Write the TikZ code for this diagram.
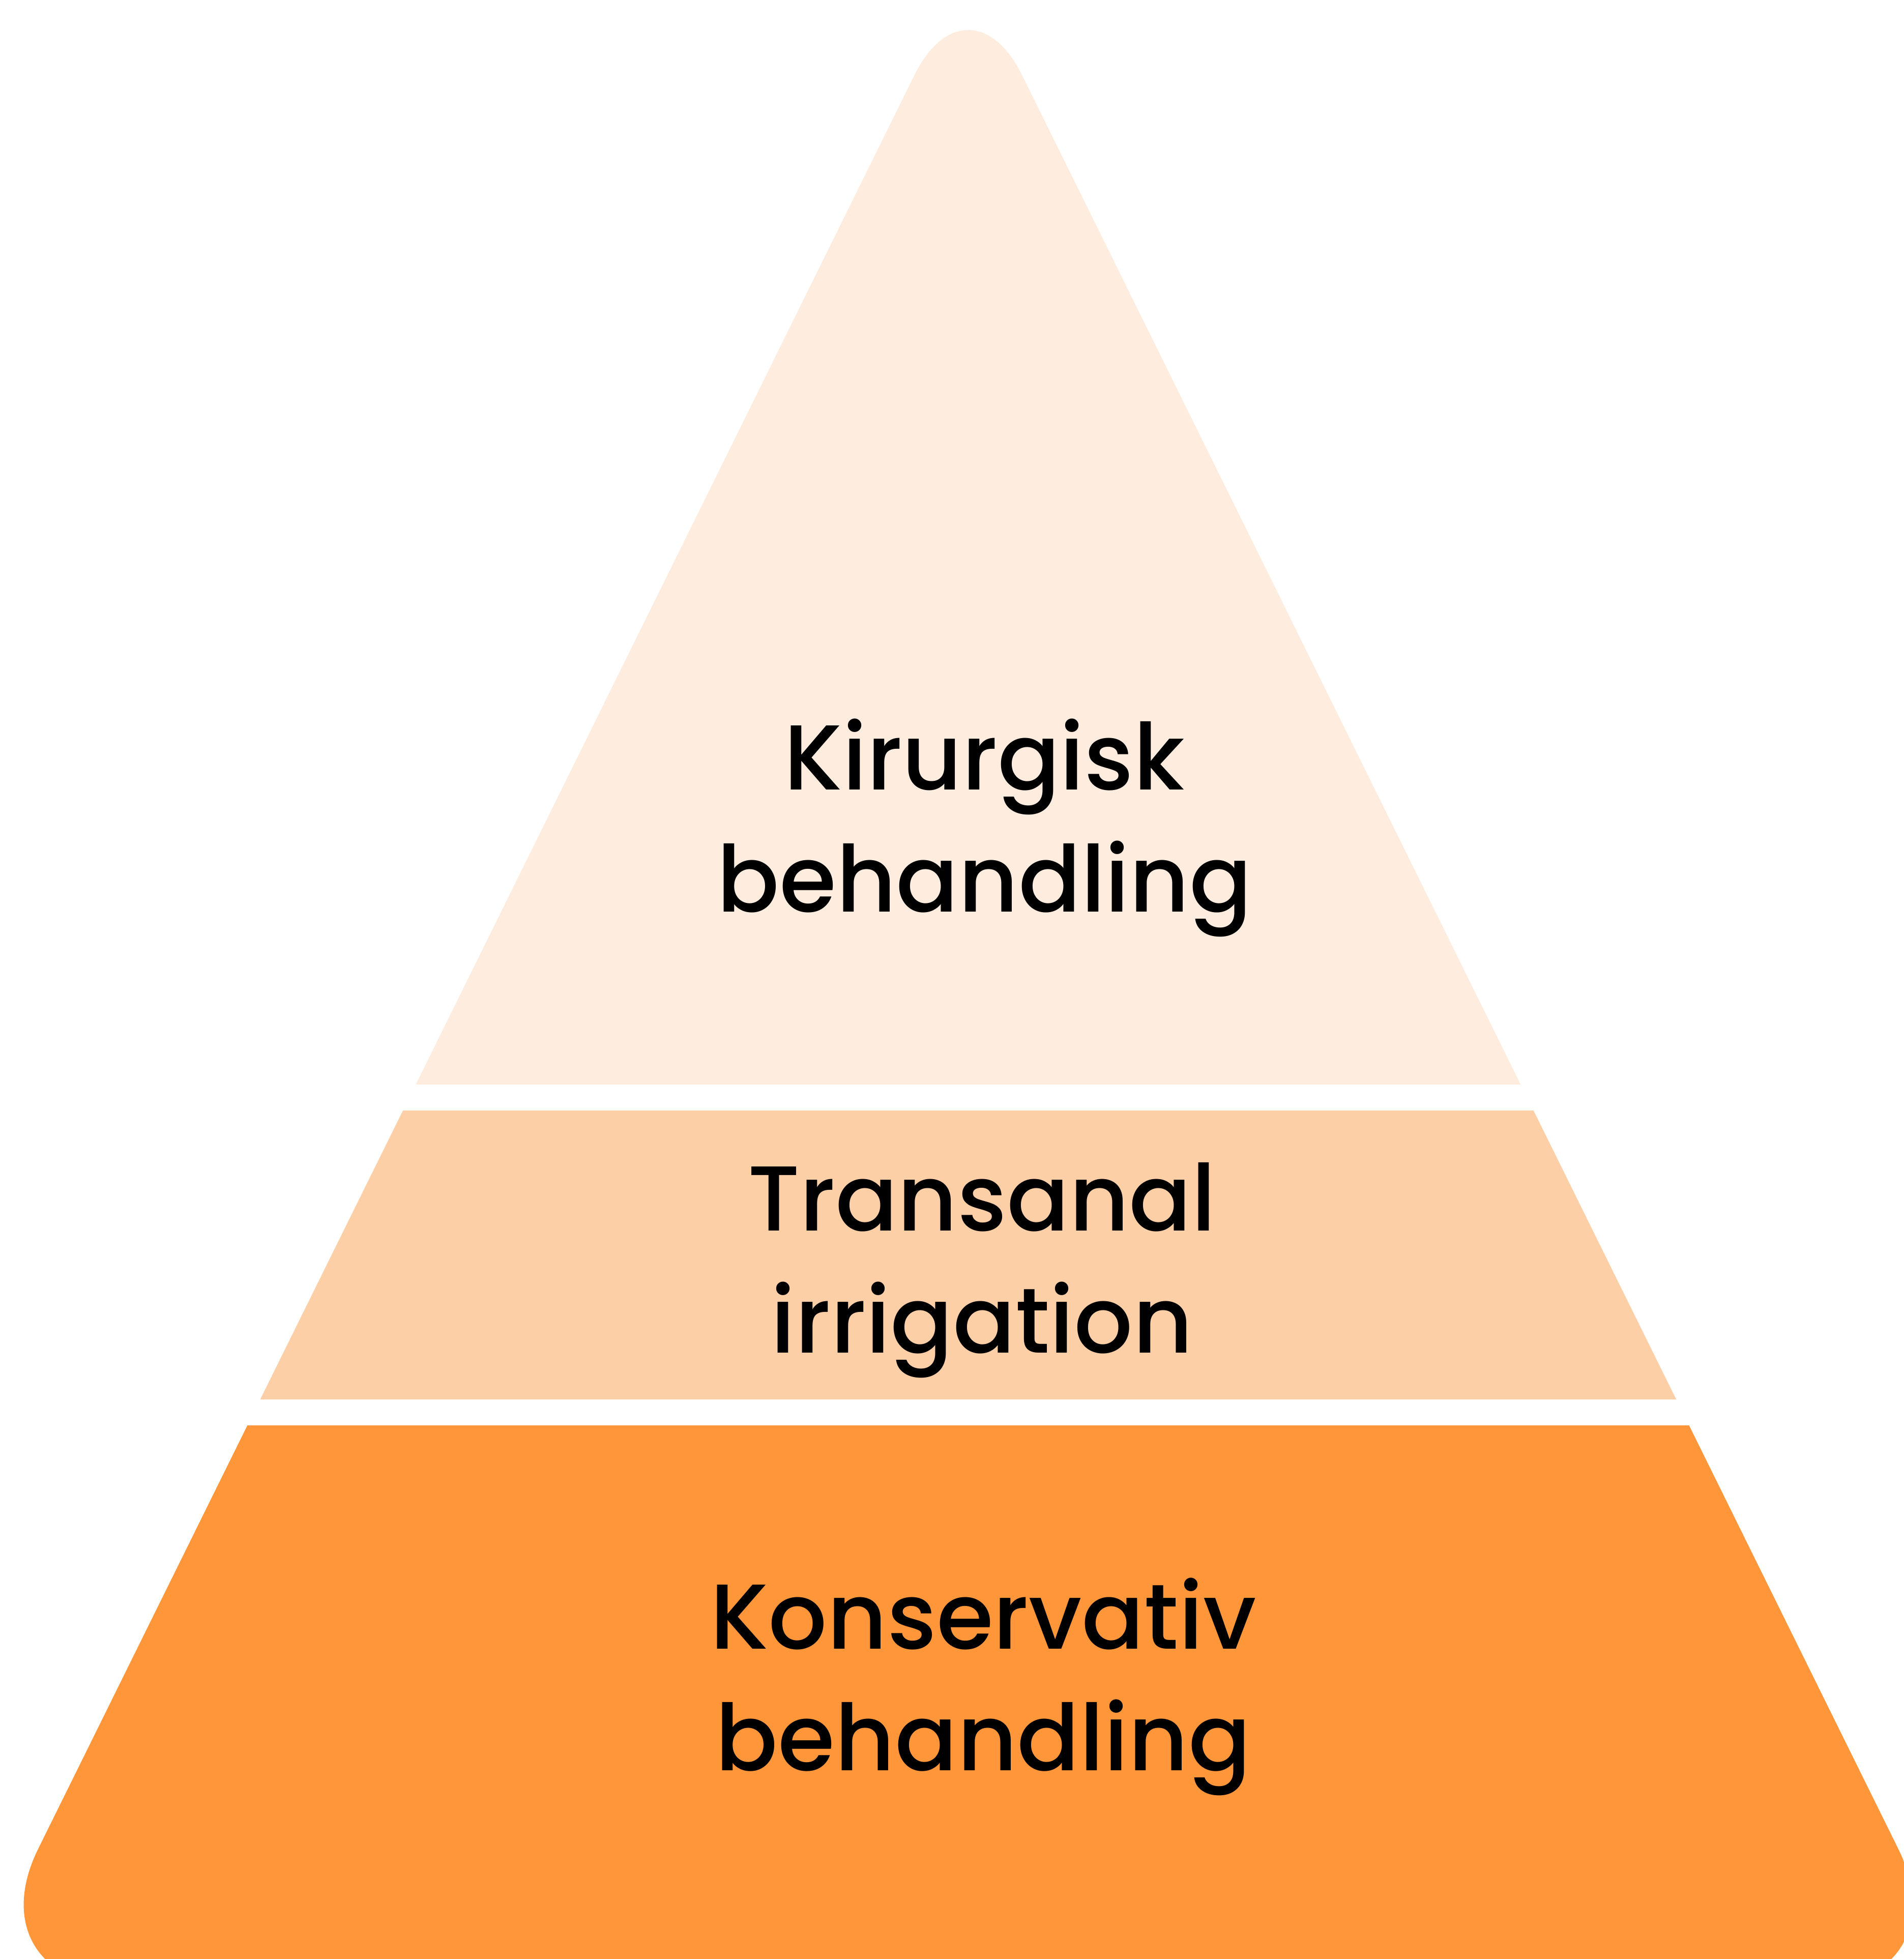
\documentclass[tikz,border=0pt]{standalone}
\usepackage{fontspec}
\setmainfont{Poppins}[UprightFont=* Medium]
\usepackage{tikz}
\definecolor{tiertop}{RGB}{254,237,222}
\definecolor{tiermid}{RGB}{253,207,167}
\definecolor{tierbase}{RGB}{255,150,58}
\tikzset{tierlabel/.style={anchor=base,font=\fontsize{21}{28}\selectfont,text=black,inner sep=0pt}}

\begin{document}
\begin{tikzpicture}[x=0.1mm,y=-0.1mm]
        \useasboundingbox (0,0) rectangle (1524,1568);
        \clip (0,0) rectangle (1524,1568);

        % Pyramid outline (rounded triangle)
        \begin{scope}
            \clip (732,60) .. controls (755.7,12) and (794.3,12) .. (818,60)
                -- (1519.5,1480) .. controls (1549.5,1540.75) and (1518.9,1590) .. (1451.1,1590)
                -- (98.9,1590) .. controls (31.1,1590) and (0.5,1540.75) .. (30.5,1480) -- cycle;

            % Tiers
            \fill[tiertop] (0,0) rectangle (1524,868);
            \fill[tiermid] (0,889) rectangle (1524,1120);
            \fill[tierbase] (0,1141) rectangle (1524,1620);
        \end{scope}

        % Labels
        \node[tierlabel] (kir1) at (788,632) {Kirurgisk};
        \node[tierlabel] (kir2) at (788,730) {behandling};
        \node[tierlabel] (tai1) at (786,985) {Transanal};
        \node[tierlabel] (tai2) at (786,1083) {irrigation};
        \node[tierlabel] (kon1) at (787,1320) {Konservativ};
        \node[tierlabel] (kon2) at (787,1417) {behandling};

    \end{tikzpicture}
\end{document}
